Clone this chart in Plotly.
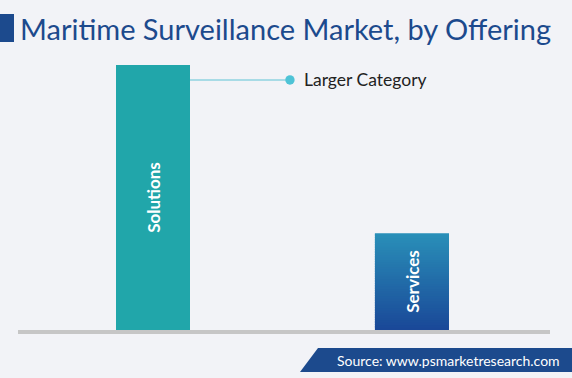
import plotly.graph_objects as go

categories = ["Solutions", "Services"]
values = [74, 27]
callout_label = "Larger Category"
title_text = "Maritime Surveillance Market, by Offering"
source_text = "Source: www.psmarketresearch.com"

BG = "#F2F3F7"
NAVY = "#1C4A8D"
FONT = "Lato"
bar_w = 0.286
colors = ["#21A6AA", "rgba(0,0,0,0)"]

fig = go.Figure()
fig.add_trace(go.Bar(
    x=list(range(len(categories))), y=values, width=bar_w,
    marker=dict(color=colors, line=dict(width=0)),
    text=categories, textposition="inside", insidetextanchor="middle",
    textangle=-90, textfont=dict(color="white", size=17, family=FONT, weight="bold"),
    hoverinfo="skip", showlegend=False,
))

# gradient fill for the Services bar (derived from its value)
n = 40
top_c = (0x2A, 0x90, 0xB9)
bot_c = (0x1A, 0x48, 0x98)
i_srv = 1
for k in range(n):
    t = (k + 0.5) / n
    c = tuple(int(bot_c[j] + (top_c[j] - bot_c[j]) * t) for j in range(3))
    y0 = values[i_srv] * k / n
    y1 = min(values[i_srv], values[i_srv] * (k + 1.6) / n)
    fig.add_shape(type="rect", xref="x", yref="y", layer="below",
                  x0=i_srv - bar_w / 2, x1=i_srv + bar_w / 2,
                  y0=y0, y1=y1,
                  fillcolor="rgb(%d,%d,%d)" % c, line=dict(width=0))

# callout
fig.add_shape(type="line", xref="x", yref="paper",
              x0=bar_w / 2, x1=0.529, y0=0.893, y1=0.893,
              line=dict(color="#8FD3E0", width=1.5))
fig.add_shape(type="circle", xref="x", yref="paper",
              x0=0.529 - 0.018, x1=0.529 + 0.018, y0=0.893 - 0.017, y1=0.893 + 0.017,
              fillcolor="#4EC3D6", line=dict(width=0))
fig.add_annotation(x=0.577, y=0.893, xref="x", yref="paper", text=callout_label,
                   showarrow=False, xanchor="left", yanchor="middle",
                   font=dict(size=17.5, color="#222222", family=FONT))

# title
fig.add_shape(type="rect", xref="paper", yref="paper",
              x0=-18 / 532, x1=-4 / 532, y0=1 + (50 - 42) / 280, y1=1 + (50 - 14) / 280,
              fillcolor=NAVY, line=dict(width=0))
fig.add_annotation(x=0 / 532, y=1 + (50 - 28) / 280, xref="paper", yref="paper",
                   text=title_text, showarrow=False, xanchor="left", yanchor="middle",
                   font=dict(size=29, color=NAVY, family=FONT))

# source banner
fig.add_shape(type="path", xref="paper", yref="paper",
              path="M %f %f L %f %f L %f %f L %f %f Z" % (
                  (300 - 18) / 532, -(372 - 330) / 280,
                  (318 - 18) / 532, -(348 - 330) / 280,
                  (572 - 18) / 532, -(348 - 330) / 280,
                  (572 - 18) / 532, -(372 - 330) / 280),
              fillcolor=NAVY, line=dict(width=0))
fig.add_annotation(x=(562 - 18) / 532, y=-(360 - 330) / 280, xref="paper", yref="paper",
                   text=source_text, showarrow=False, xanchor="right", yanchor="middle",
                   font=dict(size=14, color="white", family=FONT))

fig.update_layout(
    width=572, height=378,
    margin=dict(l=18, r=22, t=50, b=48),
    paper_bgcolor=BG, plot_bgcolor=BG,
    xaxis=dict(range=[-0.521, 1.533], showticklabels=False, showgrid=False,
               zeroline=False, showline=True, linecolor="#C6C6C6", linewidth=4,
               fixedrange=True),
    yaxis=dict(range=[0, 78.2], visible=False, fixedrange=True),
    bargap=0,
)

fig.write_html("out.html", config={"displayModeBar": False},
               post_script="document.body.style.margin='0';document.body.style.background='%s';" % BG)
